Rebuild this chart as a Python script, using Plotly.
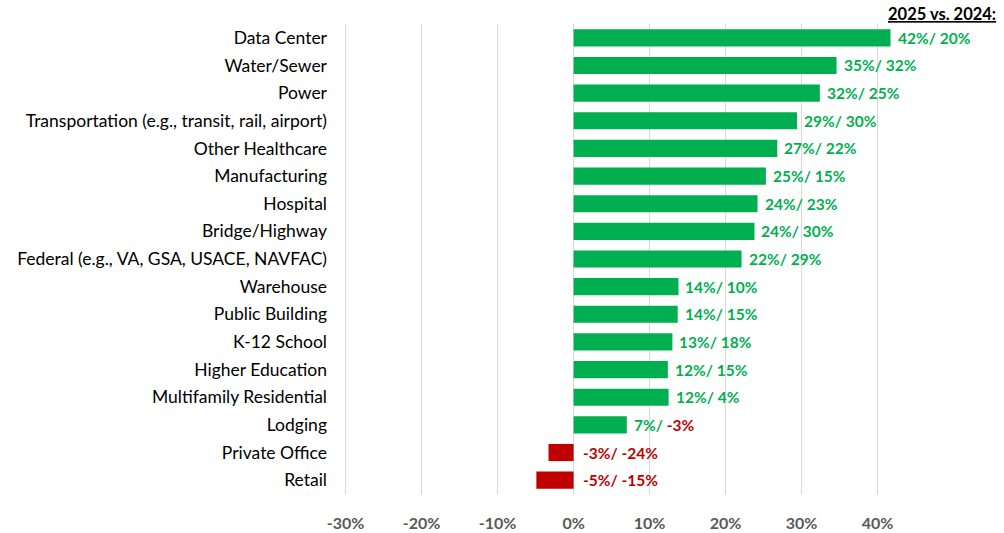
import plotly.graph_objects as go

categories = ["Data Center", "Water/Sewer", "Power",
              "Transportation (e.g., transit, rail, airport)", "Other Healthcare",
              "Manufacturing", "Hospital", "Bridge/Highway",
              "Federal (e.g., VA, GSA, USACE, NAVFAC)", "Warehouse", "Public Building",
              "K-12 School", "Higher Education", "Multifamily Residential", "Lodging",
              "Private Office", "Retail"]
bar_2025 = [41.7, 34.6, 32.4, 29.4, 26.8, 25.3, 24.2, 23.8, 22.1, 13.8, 13.7,
            13.0, 12.4, 12.5, 7.0, -3.3, -4.9]
label_2025 = [42, 35, 32, 29, 27, 25, 24, 24, 22, 14, 14, 13, 12, 12, 7, -3, -5]
label_2024 = [20, 32, 25, 30, 22, 15, 23, 30, 29, 10, 15, 18, 15, 4, -3, -24, -15]
tick_vals = [-30, -20, -10, 0, 10, 20, 30, 40]
tick_text = ["-30%", "-20%", "-10%", "0%", "10%", "20%", "30%", "40%"]

GREEN = "#00B050"
RED = "#C00000"
FONT = "Lato"

W, H = 1004, 533
L, T, B = 338, 24, 39
PW = 570
R = W - L - PW
PH = H - T - B


def col(v):
    return GREEN if v >= 0 else RED


fig = go.Figure(go.Bar(
    x=bar_2025, y=categories, orientation="h",
    marker=dict(color=[col(v) for v in bar_2025], line=dict(width=0)),
    width=0.62, hoverinfo="skip",
))

annotations = []
for cat, b, a, p in zip(categories, bar_2025, label_2025, label_2024):
    txt = (f"<span style='color:{col(a)}'>{a}%/</span>"
           f"<span style='color:{col(p)}'> {p}%</span>")
    annotations.append(dict(
        x=max(b, 0), y=cat, xref="x", yref="y", text=f"<b>{txt}</b>",
        showarrow=False, xanchor="left", yanchor="middle",
        xshift=5 if b >= 0 else 7,
        font=dict(family=FONT, size=15.5),
    ))
annotations.append(dict(
    x=(998 - L) / PW, y=1 + (T - 14) / PH, xref="paper", yref="paper",
    text="<b><u>2025 vs. 2024:</u></b>",
    showarrow=False, xanchor="right", yanchor="middle",
    font=dict(family=FONT, size=16.5, color="#000000"),
))

fig.update_layout(
    width=W, height=H,
    margin=dict(l=L, r=R, t=T, b=B, autoexpand=False),
    plot_bgcolor="white", paper_bgcolor="white",
    showlegend=False,
    annotations=annotations,
    font=dict(family=FONT),
    xaxis=dict(
        range=[-31, 44],
        tickvals=tick_vals, ticktext=tick_text,
        showgrid=True, gridcolor="#D9D9D9", gridwidth=1,
        zeroline=True, zerolinecolor="#D9D9D9", zerolinewidth=1,
        showline=False, ticks="",
        tickfont=dict(family=FONT, size=16, color="#595959", weight="bold"),
        ticklabelstandoff=18, fixedrange=True, automargin=False,
    ),
    yaxis=dict(
        categoryorder="array", categoryarray=categories, autorange="reversed",
        showgrid=False, zeroline=False, showline=False, ticks="",
        tickfont=dict(family=FONT, size=17.5, color="#000000"),
        ticklabelstandoff=10, fixedrange=True, automargin=False,
    ),
)

fig.write_html(
    "out.html",
    config={"displayModeBar": False},
    post_script="document.body.style.margin='0';document.body.style.overflow='hidden';",
)
